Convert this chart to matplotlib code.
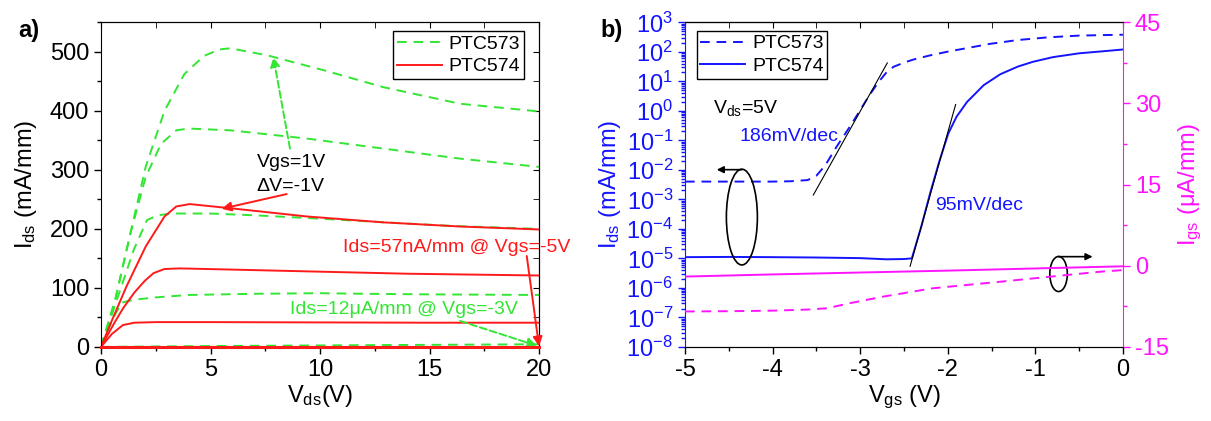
import numpy as np
import matplotlib
matplotlib.use('Agg')
import matplotlib.pyplot as plt
from matplotlib.patches import Ellipse
from matplotlib.ticker import MultipleLocator, LogLocator, NullFormatter

plt.rcParams['font.family'] = ['Liberation Sans', 'DejaVu Sans']
plt.rcParams['mathtext.fontset'] = 'custom'
plt.rcParams['mathtext.rm'] = 'Liberation Sans'
plt.rcParams['mathtext.it'] = 'Liberation Sans:italic'
plt.rcParams['mathtext.default'] = 'regular'
plt.rcParams['axes.unicode_minus'] = False

GREEN = '#33e633'
RED = '#ff1a1a'
BLUE = '#1414ff'
MAGENTA = '#ff14ff'

# ---- a) output curves, Ids vs Vds (mA/mm) ----
# PTC573 (green dashed), Vgs = 1, 0, -1, -2, -3 V
vds_g1 = [0, 0.65, 1.17, 2.04, 2.9, 3.8, 4.7, 5.4, 5.9, 7.6, 10.25, 12.9, 16.4, 20]
ids_g1 = [0, 80, 165, 305, 400, 462, 493, 504, 506, 494, 468, 440, 412, 399]
vds_g2 = [0, 0.65, 1.35, 2.04, 2.74, 3.44, 4.0, 5.9, 9.4, 12.9, 16.4, 20]
ids_g2 = [0, 80, 193, 288, 344, 367, 370, 367, 353, 336, 319, 305]
vds_g3 = [0, 0.5, 1.0, 1.5, 2.1, 2.6, 3.2, 5, 7, 10.15, 13, 16, 20]
ids_g3 = [0, 55, 110, 165, 215, 223, 226, 226, 223, 217, 211, 205, 200]
vds_g4 = [0, 0.5, 0.94, 1.5, 2.54, 4, 7, 10, 12, 15, 20]
ids_g4 = [0, 45, 75, 80, 84, 88, 90, 91, 90, 89, 88]
vds_g5 = [0, 5, 10, 15, 20]
ids_g5 = [0, 1.5, 2.5, 3.5, 4.5]

# PTC574 (red solid), Vgs = 1, 0, -1, -2, -3 V
vds_r1 = [0, 0.5, 1.17, 2.04, 2.9, 3.44, 4.05, 5.9, 9.4, 12.9, 16.4, 20]
ids_r1 = [0, 45, 103, 170, 221, 238, 242, 235, 221, 211, 204, 199]
vds_r2 = [0, 0.6, 1.0, 1.52, 2.0, 2.4, 2.9, 3.6, 6, 9.4, 14, 20]
ids_r2 = [0, 40, 65, 92, 112, 125, 132, 133, 131, 128, 124, 121]
vds_r3 = [0, 0.5, 1.0, 1.52, 2.5, 5, 10, 15, 20]
ids_r3 = [0, 22, 37, 41, 42, 42, 41.5, 41, 41]
vds_r4 = [0, 20]
ids_r4 = [0, 0]

# ---- b) transfer curves at Vds = 5 V ----
vgs_573 = [-5, -4.5, -4, -3.8, -3.6, -3.5, -3.4, -3.27, -3.1, -3.0, -2.9, -2.79, -2.7,
           -2.62, -2.5, -2.39, -2.2, -2.01, -1.7, -1.52, -1.2, -0.86, -0.5, 0]
ids_573 = [4.0e-3, 4.0e-3, 4.0e-3, 4.1e-3, 4.5e-3, 6.3e-3, 1.4e-2, 6.0e-2, 0.35, 1.05, 3.2, 9.5, 20,
           31, 43, 55, 76, 100, 148, 186, 251, 309, 355, 380]
vgs_574 = [-5, -4.5, -4, -3.5, -3, -2.7, -2.5, -2.41, -2.3, -2.2, -2.1, -1.994, -1.9,
           -1.78, -1.59, -1.40, -1.2, -1.03, -0.8, -0.5, -0.11, 0]
ids_574 = [1.10e-5, 1.12e-5, 1.10e-5, 1.07e-5, 1.02e-5, 9.3e-6, 9.5e-6, 1.0e-5, 1.26e-4, 1.66e-3, 1.78e-2, 0.17, 0.63,
           2.0, 7.4, 17.4, 31.6, 45.7, 66, 89, 112, 120]
# gate leakage (uA/mm), right axis
vgs_ig573 = [-5, -4.5, -4, -3.6, -3.38, -3.12, -2.74, -2.17, -1.40, -0.64, -0.26, 0]
igs_573 = [-8.45, -8.4, -8.3, -8.1, -7.86, -6.93, -5.71, -4.16, -2.95, -1.71, -1.1, -0.8]
vgs_ig574 = [-5, -4, -3, -2, -1, 0]
igs_574 = [-2.0, -1.6, -1.25, -0.9, -0.5, -0.1]
# subthreshold slope fits
vgs_fit573 = [-3.535, -2.69]
ids_fit573 = [1.4e-3, 42]
vgs_fit574 = [-2.43, -1.91]
ids_fit574 = [5.4e-6, 1.64]

fig = plt.figure(figsize=(12.11, 4.21), dpi=100)
axa = fig.add_axes([0.0834, 0.176, 0.3617, 0.771])
axb = fig.add_axes([0.5656, 0.176, 0.3617, 0.771])

dash = (0, (5, 3.5))

# ---------------- panel a ----------------
for vx, iy in [(vds_g1, ids_g1), (vds_g2, ids_g2), (vds_g3, ids_g3), (vds_g4, ids_g4), (vds_g5, ids_g5)]:
    axa.plot(vx, iy, color=GREEN, lw=1.4, ls=dash)
for vx, iy in [(vds_r1, ids_r1), (vds_r2, ids_r2), (vds_r3, ids_r3)]:
    axa.plot(vx, iy, color=RED, lw=1.4)
axa.plot(vds_r4, ids_r4, color=RED, lw=2.2, clip_on=False, zorder=5)

axa.set_xlim(0, 20)
axa.set_ylim(0, 550)
axa.xaxis.set_major_locator(MultipleLocator(5))
axa.xaxis.set_minor_locator(MultipleLocator(2.5))
axa.yaxis.set_major_locator(MultipleLocator(100))
axa.yaxis.set_minor_locator(MultipleLocator(50))
axa.tick_params(which='major', direction='out', length=5, width=1, labelsize=17)
axa.tick_params(which='minor', direction='out', length=3, width=1)
axa.set_xlabel('V$_{ds}$(V)', fontsize=17, labelpad=2)
axa.set_ylabel('I$_{ds}$ (mA/mm)', fontsize=17, labelpad=8)

sa = axa.secondary_xaxis('top')
sa.xaxis.set_major_locator(MultipleLocator(5))
sa.xaxis.set_minor_locator(MultipleLocator(2.5))
sa.tick_params(which='both', direction='in', length=4, labeltop=False)
sr = axa.secondary_yaxis('right')
sr.yaxis.set_major_locator(MultipleLocator(100))
sr.yaxis.set_minor_locator(MultipleLocator(50))
sr.tick_params(which='both', direction='in', length=4, labelright=False)

ha, = axa.plot([], [], color=GREEN, lw=1.4, ls=dash, label='PTC573')
hb, = axa.plot([], [], color=RED, lw=1.4, label='PTC574')
leg = axa.legend(handles=[ha, hb], loc='upper right', bbox_to_anchor=(0.966, 0.972),
                 fontsize=14, fancybox=False, edgecolor='black', framealpha=1,
                 borderaxespad=0, handlelength=2.3, handletextpad=0.35,
                 labelspacing=0.25, borderpad=0.2)
leg.get_frame().set_linewidth(1.0)

axa.text(7.1, 313, 'Vgs=1V', fontsize=14, va='center', ha='left')
axa.text(7.1, 272, '\u0394V=-1V', fontsize=14, va='center', ha='left')
axa.annotate('', xy=(7.87, 491), xytext=(8.63, 336),
             arrowprops=dict(arrowstyle='-|>', color=GREEN, lw=1.4, ls='--',
                             mutation_scale=14, shrinkA=0, shrinkB=0))
axa.annotate('', xy=(5.51, 234), xytext=(8.48, 259),
             arrowprops=dict(arrowstyle='-|>', color=RED, lw=1.4,
                             mutation_scale=14, shrinkA=0, shrinkB=0))
axa.text(11.05, 168, 'Ids=57nA/mm @ Vgs=-5V', fontsize=14, color=RED, va='center', ha='left',
         clip_on=False)
axa.annotate('', xy=(20.0, 1), xytext=(19.44, 154),
             arrowprops=dict(arrowstyle='-|>', color=RED, lw=1.4,
                             mutation_scale=14, shrinkA=0, shrinkB=0), annotation_clip=False)
axa.text(8.63, 64, 'Ids=12\u03bcA/mm @ Vgs=-3V', fontsize=14, color=GREEN, va='center', ha='left')
axa.annotate('', xy=(19.9, 2), xytext=(16.4, 44),
             arrowprops=dict(arrowstyle='-|>', color=GREEN, lw=1.4, ls='--',
                             mutation_scale=14, shrinkA=0, shrinkB=0), annotation_clip=False)

fig.text(29 / 1211, 1 - 30 / 421, 'a)', fontsize=17, fontweight='bold', ha='center', va='center')
fig.text(612 / 1211, 1 - 30 / 421, 'b)', fontsize=17, fontweight='bold', ha='center', va='center')

# ---------------- panel b ----------------
axb.plot(vgs_573, ids_573, color=BLUE, lw=1.4, ls=dash)
axb.plot(vgs_574, ids_574, color=BLUE, lw=1.4)
axb.plot(vgs_fit573, ids_fit573, color='black', lw=0.8)
axb.plot(vgs_fit574, ids_fit574, color='black', lw=0.8)
axb.set_yscale('log')
axb.set_xlim(-5, 0)
axb.set_ylim(1e-8, 1e3)
axb.yaxis.set_major_locator(LogLocator(base=10, numticks=20))
axb.yaxis.set_minor_locator(LogLocator(base=10, subs=np.arange(2, 10), numticks=100))
axb.yaxis.set_minor_formatter(NullFormatter())
axb.xaxis.set_major_locator(MultipleLocator(1))
axb.xaxis.set_minor_locator(MultipleLocator(0.5))
axb.tick_params(which='major', direction='out', length=5, width=1, labelsize=17)
axb.tick_params(which='minor', direction='out', length=3, width=1)
axb.tick_params(axis='y', which='both', colors=BLUE)
axb.spines['left'].set_color(BLUE)
axb.spines['right'].set_visible(False)
axb.set_xlabel('V$_{gs}$ (V)', fontsize=17, labelpad=2)
axb.set_ylabel('I$_{ds}$ (mA/mm)', fontsize=17, color=BLUE, labelpad=2)

sb = axb.secondary_xaxis('top')
sb.xaxis.set_major_locator(MultipleLocator(1))
sb.xaxis.set_minor_locator(MultipleLocator(0.5))
sb.tick_params(which='both', direction='in', length=4, labeltop=False)

ax2 = axb.twinx()
ax2.plot(vgs_ig573, igs_573, color=MAGENTA, lw=1.4, ls=dash)
ax2.plot(vgs_ig574, igs_574, color=MAGENTA, lw=1.4)
ax2.set_ylim(-15, 45)
ax2.yaxis.set_major_locator(MultipleLocator(15))
ax2.yaxis.set_minor_locator(MultipleLocator(7.5))
ax2.tick_params(which='major', direction='out', length=5, width=1, labelsize=17, colors=MAGENTA)
ax2.tick_params(which='minor', direction='out', length=3, width=1, colors=MAGENTA)
ax2.spines['right'].set_color(MAGENTA)
ax2.spines['left'].set_visible(False)
ax2.set_ylabel('I$_{gs}$ (\u03bcA/mm)', fontsize=17, color=MAGENTA, labelpad=6)

hc, = ax2.plot([], [], color=BLUE, lw=1.4, ls=dash, label='PTC573')
hd, = ax2.plot([], [], color=BLUE, lw=1.4, label='PTC574')
leg2 = ax2.legend(handles=[hc, hd], loc='upper left', bbox_to_anchor=(0.0265, 0.9735),
                  fontsize=14, fancybox=False, edgecolor='black', framealpha=1,
                  borderaxespad=0, handlelength=2.3, handletextpad=0.35,
                  labelspacing=0.25, borderpad=0.2)
leg2.get_frame().set_linewidth(1.0)

ax2.text(0.064, 0.735, 'V$_{ds}$=5V', transform=ax2.transAxes, fontsize=14, va='center', ha='left')
ax2.text(0.1256, 0.649, '186mV/dec', transform=ax2.transAxes, fontsize=14, color=BLUE,
         va='center', ha='left')
ax2.text(0.572, 0.437, '95mV/dec', transform=ax2.transAxes, fontsize=14, color=BLUE,
         va='center', ha='left')

ax2.add_patch(Ellipse((0.130, 0.40), 0.0708, 0.295, transform=ax2.transAxes,
                      fill=False, edgecolor='black', lw=1.2))
ax2.annotate('', xy=(0.0726, 0.546), xytext=(0.130, 0.546), xycoords='axes fraction',
             arrowprops=dict(arrowstyle='-|>', color='black', lw=1.2, mutation_scale=10,
                             shrinkA=0, shrinkB=0))
ax2.add_patch(Ellipse((0.853, 0.2246), 0.040, 0.108, transform=ax2.transAxes,
                      fill=False, edgecolor='black', lw=1.2))
ax2.annotate('', xy=(0.9306, 0.278), xytext=(0.853, 0.278), xycoords='axes fraction',
             arrowprops=dict(arrowstyle='-|>', color='black', lw=1.2, mutation_scale=10,
                             shrinkA=0, shrinkB=0))

fig.savefig('out.png', dpi=100)
